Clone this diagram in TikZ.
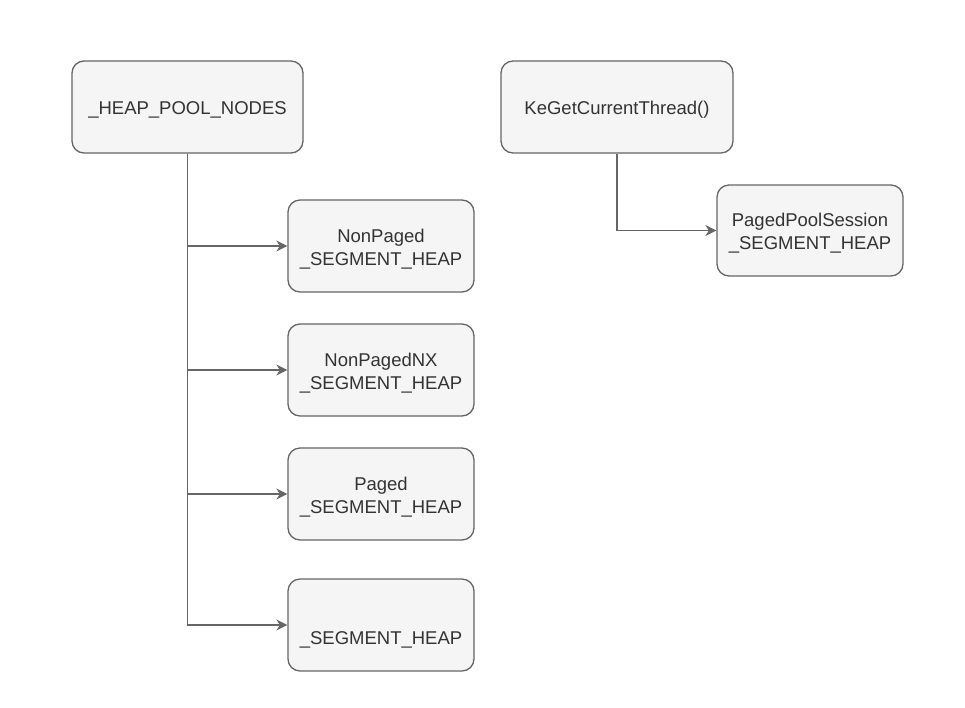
\documentclass[tikz,border=0pt]{standalone}
\usepackage{fontspec}
\setmainfont{Liberation Sans}
\usetikzlibrary{arrows.meta}
\definecolor{boxline}{HTML}{666666}
\definecolor{boxfill}{HTML}{F5F5F5}
\definecolor{txt}{HTML}{333333}
\newcommand\boxlbl[1]{\smash{\raisebox{-7.5pt}{\begin{tabular}{@{}c@{}}#1\end{tabular}}}}
\tikzset{
  box/.style={draw=boxline, fill=boxfill, line width=1.3pt, rounded corners=12pt,
    text=txt, align=center, inner sep=0pt,
    font=\fontsize{18.5}{23}\selectfont},
  conn/.style={draw=boxline, line width=1.3pt,
    -{Stealth[length=11pt,width=11pt,inset=3.5pt]}}
}
\begin{document}
\begin{tikzpicture}[x=1pt,y=-1pt]
\useasboundingbox (0,0) rectangle (965,707);
\node[box, minimum width=231pt, minimum height=92pt] (hpn) at (187.5,107) {\boxlbl{\_HEAP\_POOL\_NODES}};
\node[box, minimum width=232pt, minimum height=92pt] (ke) at (617,107) {\boxlbl{KeGetCurrentThread()}};
\node[box, minimum width=186pt, minimum height=91pt] (pps) at (810,230.5) {\boxlbl{PagedPoolSession\\\_SEGMENT\_HEAP}};
\node[box, minimum width=186pt, minimum height=92pt] (np) at (381,246) {\boxlbl{NonPaged\\\_SEGMENT\_HEAP}};
\node[box, minimum width=186pt, minimum height=92pt] (npnx) at (381,370) {\boxlbl{NonPagedNX\\\_SEGMENT\_HEAP}};
\node[box, minimum width=186pt, minimum height=92pt] (pg) at (381,494) {\boxlbl{Paged\\\_SEGMENT\_HEAP}};
\node[box, minimum width=186pt, minimum height=92pt] (sh) at (381,625) {\boxlbl{\\\_SEGMENT\_HEAP}};
\draw[conn] (hpn.south) |- (np.west);
\draw[conn] (hpn.south) |- (npnx.west);
\draw[conn] (hpn.south) |- (pg.west);
\draw[conn] (hpn.south) |- (sh.west);
\draw[conn] (ke.south) |- (pps.west);
\end{tikzpicture}
\end{document}
